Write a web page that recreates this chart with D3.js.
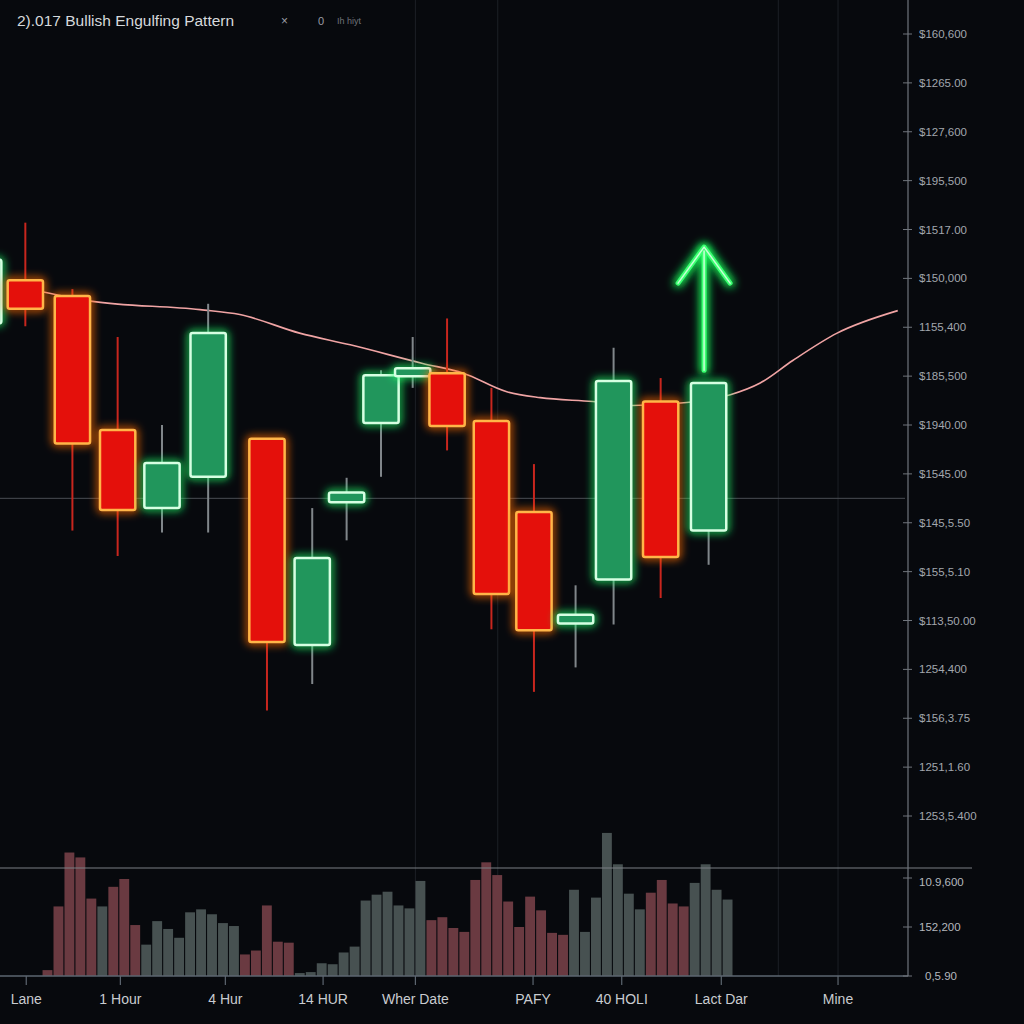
<!DOCTYPE html>
<html>
<head>
<meta charset="utf-8">
<title>Bullish Engulfing Pattern</title>
<script src="https://cdnjs.cloudflare.com/ajax/libs/d3/7.8.5/d3.min.js"></script>
<style>
  html, body { margin: 0; padding: 0; background: #07090d; overflow: hidden; }
  svg { display: block; }
  text { font-family: "Liberation Sans", "DejaVu Sans", sans-serif; }
</style>
</head>
<body>
<svg id="chart" width="1024" height="1024"></svg>
<script>
// candles (time position, OHLC in price units)
var candleT = [-1.8, 2.8, 8.0, 13.0, 17.9, 23.0, 29.5, 34.5, 38.3, 42.1, 45.6, 49.4, 54.3, 59.0, 63.6, 67.8, 73.0, 78.3];
var opens  = [50.4, 54.8, 53.2, 39.5, 31.5, 34.7, 38.6, 17.5, 32.1, 40.2, 45.0, 45.3, 40.4, 31.1, 19.7, 24.2, 42.4, 29.2];
var closes = [56.9, 51.9, 38.1, 31.3, 36.1, 49.4, 17.8, 26.4, 33.1, 45.1, 45.8, 39.9, 22.7, 19.0, 20.6, 44.5, 26.5, 44.3];
var highs  = [58.0, 60.7, 53.9, 49.0, 40.0, 52.4, 38.6, 31.5, 34.6, 45.6, 49.0, 50.9, 43.8, 36.0, 23.6, 47.9, 44.8, 44.3];
var lows   = [49.0, 50.1, 29.2, 26.6, 29.0, 29.0, 10.8, 13.5, 28.2, 34.7, 43.8, 37.4, 19.1, 12.7, 15.2, 19.6, 22.3, 25.7];

// moving average line
var maT = [4.8, 9.8, 22.1, 26.5, 33.1, 38.7, 46.7, 51.2, 56.0, 59.7, 65.5, 69.9, 75.9, 80.7, 84.0, 87.6, 92.5, 99.2];
var maV = [53.6, 52.7, 51.8, 51.3, 49.4, 48.2, 46.3, 45.3, 43.4, 42.8, 42.4, 42.0, 42.3, 43.1, 44.3, 46.6, 49.4, 51.7];

// volume (r = down, g = up)
var volumes = [6, 71, 126, 121, 79, 71, 91, 99, 52, 32, 56, 48, 39, 65, 68, 63, 54, 51, 22, 26, 72, 35, 34,
               3, 4, 13, 12, 24, 30, 77, 83, 86, 72, 69, 97, 57, 60, 49, 45, 98, 116, 103, 76, 50, 81, 67, 44,
               42, 88, 45, 80, 146, 114, 84, 68, 85, 98, 74, 71, 95, 114, 88, 78];
var volDir = "rrrrrgrrrgggggggggrrrrrggggggggggggrrrrrrrrrrrrrgggggggrrrrggggg".split("");

// axis ticks and labels
var priceTicks = d3.range(80, -1, -5);
var priceLabels = ["$160,600", "$1265.00", "$127,600", "$195,500", "$1517.00", "$150,000", "1155,400",
                   "$185,500", "$1940.00", "$1545.00", "$145,5.50", "$155,5.10", "$113,50.00", "1254,400",
                   "$156,3.75", "1251,1.60", "1253,5.400"];
var volTicks = [100, 50, 0];
var volLabels = ["10.9,600", "152,200", "0,5.90"];
var timeTicks = [2.9, 13.3, 24.9, 35.7, 45.9, 58.9, 68.7, 79.7, 92.6];
var timeLabels = ["Lane", "1 Hour", "4 Hur", "14 HUR", "Wher Date", "PAFY", "40 HOLI", "Lact Dar", "Mine"];
var gridT = [45.9, 55.0, 86.0, 92.6];
var crossPrice = 32.5;
var arrowT = 77.8, arrowFrom = 45.6, arrowTo = 58.2;

var svg = d3.select("#chart");
var x = d3.scaleLinear().domain([0, 100]).range([0, 905]);
var y = d3.scaleLinear().domain([0, 80]).range([816, 34]);
var yv = d3.scaleLinear().domain([0, 100]).range([976, 878]);
var vb = d3.scaleBand().domain(d3.range(volumes.length)).range([x(4.7), x(80.94)]).paddingInner(0.1);

svg.append("rect").attr("width", 1024).attr("height", 1024).attr("fill", "#07090d");

var defs = svg.append("defs");
function blur(id, s) {
  defs.append("filter").attr("id", id)
    .attr("filterUnits", "userSpaceOnUse")
    .attr("x", -50).attr("y", -50).attr("width", 1124).attr("height", 1124)
    .append("feGaussianBlur").attr("stdDeviation", s);
}
blur("blur4", 4);
blur("blur2", 2);

// grid
svg.append("g").selectAll("line").data(gridT).join("line")
  .attr("x1", function(d) { return x(d); }).attr("x2", function(d) { return x(d); })
  .attr("y1", 0).attr("y2", 976)
  .attr("stroke", "#1c2026").attr("stroke-width", 1);

svg.append("line")
  .attr("x1", 0).attr("x2", 905).attr("y1", y(crossPrice)).attr("y2", y(crossPrice))
  .attr("stroke", "#4a4e54").attr("stroke-width", 1);

// volume
svg.append("g").selectAll("rect").data(volumes).join("rect")
  .attr("x", function(d, i) { return vb(i); })
  .attr("width", vb.bandwidth())
  .attr("y", function(d) { return yv(d); })
  .attr("height", function(d) { return yv(0) - yv(d); })
  .attr("fill", function(d, i) { return volDir[i] == "r" ? "#6a3a41" : "#475151"; });

svg.append("line").attr("x1", 0).attr("x2", 972).attr("y1", 868).attr("y2", 868)
  .attr("stroke", "#7a7e84").attr("stroke-width", 1.2);
svg.append("line").attr("x1", 0).attr("x2", 908).attr("y1", yv(0)).attr("y2", yv(0))
  .attr("stroke", "#5d6670").attr("stroke-width", 1.5);

// moving average
svg.append("path")
  .datum(d3.range(maT.length))
  .attr("fill", "none")
  .attr("stroke", "#f0a4a4")
  .attr("stroke-width", 1.6)
  .attr("d", d3.line().curve(d3.curveMonotoneX)
    .x(function(i) { return x(maT[i]); })
    .y(function(i) { return y(maV[i]); }));

// candles
var bw = x(3.9) - x(0);
var cg = svg.append("g");
for (var i = 0; i < candleT.length; i++) {
  var up = closes[i] >= opens[i];
  var cx = x(candleT[i]);
  var bodyTop = y(Math.max(opens[i], closes[i]));
  var bodyBot = y(Math.min(opens[i], closes[i]));
  cg.append("line")
    .attr("x1", cx).attr("x2", cx)
    .attr("y1", y(highs[i])).attr("y2", y(lows[i]))
    .attr("stroke", up ? "#80868a" : "#c8261e")
    .attr("stroke-width", 2);
  cg.append("rect")
    .attr("x", cx - bw / 2).attr("y", bodyTop)
    .attr("width", bw).attr("height", bodyBot - bodyTop)
    .attr("rx", 2)
    .attr("fill", "none")
    .attr("stroke", up ? "#1dff6a" : "#ff6a00")
    .attr("stroke-width", 5)
    .attr("filter", "url(#blur4)");
  cg.append("rect")
    .attr("x", cx - bw / 2).attr("y", bodyTop)
    .attr("width", bw).attr("height", bodyBot - bodyTop)
    .attr("rx", 2)
    .attr("fill", up ? "#21965c" : "#e4100b")
    .attr("stroke", up ? "#d6ffe2" : "#ffb548")
    .attr("stroke-width", 2.5);
}

// arrow
var ax = x(arrowT);
var tipY = y(arrowTo);
function arrowPath(g, color, w, f) {
  g.append("line").attr("x1", ax).attr("x2", ax).attr("y1", y(arrowFrom)).attr("y2", tipY + 4)
    .attr("stroke", color).attr("stroke-width", w).attr("stroke-linecap", "round").attr("filter", f);
  g.append("path")
    .attr("d", "M" + (ax - 26) + "," + (tipY + 36) + "L" + ax + "," + tipY + "L" + (ax + 26) + "," + (tipY + 36))
    .attr("fill", "none").attr("stroke", color).attr("stroke-width", w)
    .attr("stroke-linecap", "round").attr("stroke-linejoin", "round").attr("filter", f);
}
var ag = svg.append("g");
arrowPath(ag, "#19ff5a", 9, "url(#blur4)");
arrowPath(ag, "#3dff72", 5, null);
arrowPath(ag, "#c8ffd6", 1.5, null);

// right axis
svg.append("line").attr("x1", 908).attr("x2", 908).attr("y1", 0).attr("y2", yv(0))
  .attr("stroke", "#70757c").attr("stroke-width", 1.2);
var ra = svg.append("g");
ra.selectAll("line").data(priceTicks).join("line")
  .attr("x1", 903).attr("x2", 912)
  .attr("y1", function(d) { return y(d); }).attr("y2", function(d) { return y(d); })
  .attr("stroke", "#70757c");
ra.selectAll("text").data(priceTicks).join("text")
  .attr("x", 919).attr("y", function(d) { return y(d); }).attr("dy", "0.35em")
  .attr("font-size", 11.5).attr("fill", "#a2a7ae")
  .text(function(d, i) { return priceLabels[i]; });
var va = svg.append("g");
va.selectAll("line").data(volTicks).join("line")
  .attr("x1", 903).attr("x2", 912)
  .attr("y1", function(d) { return yv(d); }).attr("y2", function(d) { return yv(d); })
  .attr("stroke", "#70757c");
va.selectAll("text").data(volTicks).join("text")
  .attr("x", function(d) { return d == 0 ? 925 : 919; })
  .attr("y", function(d) { return yv(d); }).attr("dy", function(d) { return d == 100 ? "0.7em" : "0.35em"; })
  .attr("font-size", 11.5).attr("fill", "#b4b8be")
  .text(function(d, i) { return volLabels[i]; });

// bottom axis
var ba = svg.append("g");
ba.selectAll("line").data(timeTicks).join("line")
  .attr("x1", function(d) { return x(d); }).attr("x2", function(d) { return x(d); })
  .attr("y1", yv(0)).attr("y2", yv(0) + 9)
  .attr("stroke", "#5d6670").attr("stroke-width", 1.2);
ba.selectAll("text").data(timeTicks).join("text")
  .attr("x", function(d) { return x(d); }).attr("y", 1004)
  .attr("text-anchor", "middle")
  .attr("font-size", 14).attr("fill", "#c9ccd0")
  .text(function(d, i) { return timeLabels[i]; });

// title
svg.append("text").attr("x", 17).attr("y", 26).attr("font-size", 15.5).attr("fill", "#d6d9dc")
  .text("2).017 Bullish Engulfing Pattern");
svg.append("text").attr("x", 281).attr("y", 25).attr("font-size", 12).attr("fill", "#9a9ea4").text("×");
svg.append("text").attr("x", 318).attr("y", 25).attr("font-size", 11).attr("fill", "#9a9ea4").text("0");
svg.append("text").attr("x", 337).attr("y", 24).attr("font-size", 9).attr("fill", "#6e7278").text("Ih hiyt");
</script>
</body>
</html>
